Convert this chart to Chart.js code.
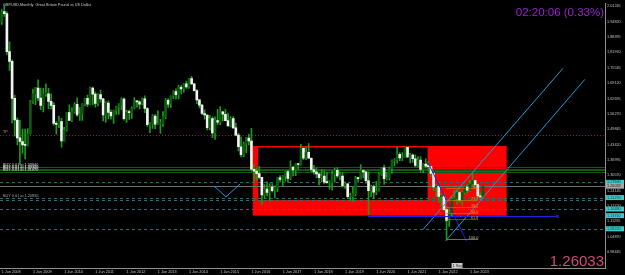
<!DOCTYPE html>
<html><head><meta charset="utf-8">
<script src="https://cdn.jsdelivr.net/npm/chart.js@4.4.0/dist/chart.umd.min.js"></script>
<style>html,body{margin:0;padding:0;background:#000;overflow:hidden}#wrap{width:625px;height:275px}</style>
</head><body><div id="wrap"><canvas id="c" width="625" height="275"></canvas></div>
<script>
// Monthly GBPUSD candles, index 0 = Jun 2008 ... index 185 = Nov 2023
const open = [
1.9465,1.9906,1.9815,1.8230,1.7820,1.6270,1.5370,
1.4620,1.4470,1.4330,1.4310,1.4800,1.6150,1.6460,1.6700,1.6290,1.5980,1.6450,1.6460,
1.6150,1.5980,1.5230,1.5180,1.5300,1.4500,1.4950,1.5680,1.5350,1.5720,1.6020,1.5580,
1.5610,1.6030,1.6270,1.6030,1.6700,1.6450,1.6060,1.6430,1.6250,1.5580,1.6080,1.5690,
1.5540,1.5760,1.5920,1.6000,1.6240,1.5420,1.5690,1.5680,1.5870,1.6150,1.6130,1.6030,
1.6250,1.5850,1.5170,1.5190,1.5530,1.5190,1.5210,1.5210,1.5500,1.6190,1.6030,1.6370,
1.6560,1.6430,1.6740,1.6670,1.6880,1.6750,1.7100,1.6880,1.6600,1.6210,1.5990,1.5640,
1.5580,1.5050,1.5430,1.4830,1.5350,1.5280,1.5710,1.5610,1.5340,1.5120,1.5430,1.5040,
1.4740,1.4250,1.3920,1.4370,1.4610,1.4490,1.3310,1.3230,1.3130,1.2970,1.2240,1.2480,
1.2340,1.2580,1.2410,1.2550,1.2950,1.2890,1.3030,1.3210,1.2930,1.3400,1.3280,1.3530,
1.3510,1.4190,1.3770,1.4020,1.3770,1.3300,1.3200,1.3120,1.2960,1.3030,1.2770,1.2750,
1.2750,1.3100,1.3270,1.3030,1.3030,1.2620,1.2700,1.2160,1.2160,1.2290,1.2940,1.2920,
1.3260,1.3200,1.2830,1.2420,1.2590,1.2350,1.2400,1.3090,1.3370,1.2920,1.2950,1.3330,
1.3670,1.3700,1.3930,1.3780,1.3820,1.4230,1.3830,1.3900,1.3750,1.3470,1.3690,1.3300,
1.3530,1.3440,1.3420,1.3140,1.2570,1.2600,1.2170,1.2170,1.1620,1.1170,1.1480,1.2050,
1.2090,1.2340,1.2020,1.2340,1.2570,1.2440,1.2700,1.2840,1.2670,1.2200,1.2150];
const high = [
1.9980,2.0157,1.9895,1.8640,1.7880,1.6400,1.5460,
1.5360,1.4990,1.4985,1.5010,1.6190,1.6660,1.6740,1.7045,1.6700,1.6690,1.6880,1.6690,
1.6460,1.6100,1.5300,1.5530,1.5440,1.5060,1.5690,1.6000,1.5880,1.6100,1.6300,1.5900,
1.6060,1.6280,1.6410,1.6750,1.6750,1.6540,1.6470,1.6620,1.6270,1.6140,1.6170,1.5780,
1.5780,1.5950,1.6060,1.6300,1.6300,1.5780,1.5780,1.5920,1.6310,1.6170,1.6170,1.6300,
1.6380,1.5890,1.5260,1.5600,1.5600,1.5750,1.5400,1.5720,1.6260,1.6260,1.6380,1.6600,
1.6670,1.6820,1.6820,1.6900,1.6995,1.7110,1.7190,1.6900,1.6640,1.6230,1.6020,1.5790,
1.5590,1.5550,1.5500,1.5500,1.5820,1.5930,1.5730,1.5820,1.5660,1.5510,1.5510,1.5240,
1.4810,1.4670,1.4450,1.4640,1.4770,1.5020,1.3480,1.3370,1.3440,1.2980,1.2670,1.2780,
1.2710,1.2710,1.2620,1.2960,1.3050,1.3050,1.3230,1.3270,1.3660,1.3420,1.3550,1.3550,
1.4350,1.4210,1.4240,1.4380,1.3790,1.3470,1.3360,1.3120,1.3300,1.3260,1.3180,1.2840,
1.3220,1.3350,1.3380,1.3200,1.3180,1.2780,1.2710,1.2310,1.2580,1.3010,1.2980,1.3510,
1.3290,1.3210,1.3200,1.2650,1.2650,1.2810,1.3170,1.3390,1.3480,1.3180,1.3400,1.3700,
1.3760,1.4240,1.4010,1.4010,1.4250,1.4250,1.3980,1.3960,1.3910,1.3840,1.3840,1.3550,
1.3750,1.3640,1.3440,1.3170,1.2670,1.2620,1.2250,1.2290,1.1740,1.1650,1.2150,1.2450,
1.2450,1.2400,1.2420,1.2580,1.2680,1.2850,1.3140,1.2840,1.2710,1.2340,1.2620];
const low = [
1.9365,1.9700,1.8110,1.7445,1.5250,1.4690,1.4330,
1.3500,1.3985,1.3745,1.4275,1.4780,1.6060,1.6010,1.6180,1.5800,1.5710,1.6360,1.5840,
1.5830,1.5150,1.4780,1.5050,1.4230,1.4480,1.4900,1.5340,1.5300,1.5650,1.5530,1.5350,
1.5350,1.5960,1.5930,1.6000,1.6010,1.5910,1.5960,1.6110,1.5330,1.5270,1.5420,1.5400,
1.5230,1.5600,1.5600,1.5800,1.5360,1.5270,1.5390,1.5440,1.5830,1.5910,1.5830,1.6000,
1.5680,1.5100,1.4830,1.5020,1.5010,1.5180,1.4810,1.5100,1.5430,1.5900,1.5900,1.6260,
1.6250,1.6250,1.6460,1.6530,1.6690,1.6690,1.6860,1.6590,1.6050,1.5870,1.5590,1.5400,
1.4950,1.4950,1.4630,1.4560,1.5170,1.5170,1.5330,1.5330,1.5110,1.5080,1.5020,1.4700,
1.4080,1.3830,1.3840,1.4000,1.4330,1.3230,1.2800,1.2860,1.2910,1.1840,1.2080,1.2200,
1.1990,1.2350,1.2110,1.2370,1.2770,1.2590,1.2810,1.2770,1.2870,1.3030,1.3040,1.3300,
1.3480,1.3710,1.3710,1.3760,1.3200,1.3100,1.2960,1.2660,1.2790,1.2700,1.2720,1.2480,
1.2440,1.2770,1.2970,1.2860,1.2560,1.2510,1.2080,1.2010,1.1960,1.2200,1.2770,1.2900,
1.2960,1.2730,1.1410,1.2160,1.2080,1.2250,1.2390,1.3050,1.2680,1.2850,1.2860,1.3140,
1.3450,1.3560,1.3670,1.3670,1.3800,1.3790,1.3570,1.3600,1.3410,1.3410,1.3190,1.3160,
1.3360,1.3270,1.3000,1.2410,1.2160,1.1930,1.1760,1.1590,1.0350,1.0920,1.1350,1.1990,
1.1840,1.1920,1.1800,1.2270,1.2310,1.2370,1.2620,1.2550,1.2110,1.2040,1.2100];
const close = [
1.9906,1.9815,1.8230,1.7820,1.6270,1.5370,1.4620,
1.4470,1.4330,1.4310,1.4800,1.6150,1.6460,1.6700,1.6290,1.5980,1.6450,1.6460,1.6150,
1.5980,1.5230,1.5180,1.5300,1.4500,1.4950,1.5680,1.5350,1.5720,1.6020,1.5580,1.5610,
1.6030,1.6270,1.6030,1.6700,1.6450,1.6060,1.6430,1.6250,1.5580,1.6080,1.5690,1.5540,
1.5760,1.5920,1.6000,1.6240,1.5420,1.5690,1.5680,1.5870,1.6150,1.6130,1.6030,1.6250,
1.5850,1.5170,1.5190,1.5530,1.5190,1.5210,1.5210,1.5500,1.6190,1.6030,1.6370,1.6560,
1.6430,1.6740,1.6670,1.6880,1.6750,1.7100,1.6880,1.6600,1.6210,1.5990,1.5640,1.5580,
1.5050,1.5430,1.4830,1.5350,1.5280,1.5710,1.5610,1.5340,1.5120,1.5430,1.5040,1.4740,
1.4250,1.3920,1.4370,1.4610,1.4490,1.3310,1.3230,1.3130,1.2970,1.2240,1.2480,1.2340,
1.2580,1.2410,1.2550,1.2950,1.2890,1.3030,1.3210,1.2930,1.3400,1.3280,1.3530,1.3510,
1.4190,1.3770,1.4020,1.3770,1.3300,1.3200,1.3120,1.2960,1.3030,1.2770,1.2750,1.2750,
1.3100,1.3270,1.3030,1.3030,1.2620,1.2700,1.2160,1.2160,1.2290,1.2940,1.2920,1.3260,
1.3200,1.2830,1.2420,1.2590,1.2350,1.2400,1.3090,1.3370,1.2920,1.2950,1.3330,1.3670,
1.3700,1.3930,1.3780,1.3820,1.4230,1.3830,1.3900,1.3750,1.3470,1.3690,1.3300,1.3530,
1.3440,1.3420,1.3140,1.2570,1.2600,1.2170,1.2170,1.1620,1.1170,1.1480,1.2050,1.2090,
1.2340,1.2020,1.2340,1.2570,1.2440,1.2700,1.2840,1.2670,1.2200,1.2150,1.26033];

const xTickIdx = [0,12,24,36,48,60,72,84,96,108,120,132,144,156,168,180];
const xTickLabels = ['1 Jun 2008','1 Jun 2009','1 Jun 2010','1 Jun 2011','1 Jun 2012','1 Jun 2013','1 Jun 2014','1 Jun 2015','1 Jun 2016','1 Jun 2017','1 Jun 2018','1 Jun 2019','1 Jun 2020','1 Jun 2021','1 Jun 2022','1 Jun 2023'];
const yTicks = [2.01245,1.94820,1.88395,1.81970,1.75545,1.69120,1.62695,1.56270,1.49845,1.43420,1.36995,1.30570,1.24145,1.17720,1.11295,1.04870,0.98445];

// drawn objects in chart coordinates (month index, price)
const redZone = {x0:96.5, x1:194.1, p0:1.1371, p1:1.4282};
const innerZone = {x0:98.6, x1:163.7, p0:1.2031, p1:1.4220};
const tpLevel = 1.4757;
const buyLevels = [1.3394,1.3332,1.3270,1.3187];
const orderLevels = [1.2763,1.2127,1.2011,1.1648,1.0822];
const bidPrice = 1.26033;
const blueLevel = {p:1.1342, x0:140.8, x1:213.4};
const channelA = [{x:161.9,y:1.0786},{x:215.7,y:1.7524}];
const channelB = [{x:170.7,y:1.0322},{x:224.2,y:1.7070}];
const navyLine = [{x:163.9,y:1.3576},{x:178.7,y:1.0302}];
const checkMark = [{x:81.6,y:1.2610},{x:86.2,y:1.2156},{x:91.6,y:1.2692}];
const fibLevels = [0,23.6,38.2,50.0,61.8,100.0];
const fibTop = 1.2528, fibBottom = 1.0413, fibX0 = 171.0, fibX1 = 183.2;
const axisMarks = [1.2763,1.2127,1.1648,1.1371,1.0822];

const SMALL = '3.8px "Liberation Sans"';
const bear = i => close[i] < open[i];

const mt4 = {
  id:'mt4',
  beforeDatasetsDraw(chart){
    const {ctx, chartArea:a, scales:{x,y}} = chart;
    ctx.save();
    ctx.beginPath(); ctx.rect(a.left,a.top,a.right-a.left,a.bottom-a.top); ctx.clip();
    const rect=(z,c)=>{const X0=x.getPixelForValue(z.x0),X1=x.getPixelForValue(z.x1),Y0=y.getPixelForValue(z.p1),Y1=y.getPixelForValue(z.p0);ctx.fillStyle=c;ctx.fillRect(X0,Y0,X1-X0,Y1-Y0);};
    rect(redZone,'#ff0000');
    rect(innerZone,'#000000');
    const hl=(p,c,dash,x0,x1)=>{const Y=Math.round(y.getPixelForValue(p))+0.5;ctx.strokeStyle=c;ctx.lineWidth=1;ctx.setLineDash(dash);ctx.beginPath();ctx.moveTo(x0===undefined?a.left:x.getPixelForValue(x0),Y);ctx.lineTo(x1===undefined?a.right:x.getPixelForValue(x1),Y);ctx.stroke();};
    hl(tpLevel,'#b01010',[1,2]);
    buyLevels.forEach(p=>hl(p,'#155515',[]));
    orderLevels.forEach(p=>hl(p,'#2a6f78',[3,3]));
    hl(bidPrice,'#707070',[]);
    ctx.setLineDash([]);
    ctx.font=SMALL; ctx.textBaseline='bottom'; ctx.textAlign='left';
    ctx.fillStyle='#a0a0a0'; ctx.fillText('TP',3,y.getPixelForValue(tpLevel)-1);
    ctx.fillStyle='#d8d8d8';
    buyLevels.forEach(p=>ctx.fillText('BUY 0.01 at '+p.toFixed(5),3,y.getPixelForValue(p)));
    ctx.fillStyle='#9aa8a8';
    ctx.fillText('BUY 0.01 at 1.20830',3,y.getPixelForValue(orderLevels[1]));
    ctx.restore();
  },
  afterDatasetsDraw(chart){
    const {ctx, chartArea:a, scales:{x,y}} = chart;
    ctx.save();
    ctx.beginPath(); ctx.rect(a.left,a.top,a.right-a.left,a.bottom-a.top); ctx.clip();
    const by=Math.round(y.getPixelForValue(blueLevel.p))+0.5;
    ctx.strokeStyle='#2424e0'; ctx.lineWidth=1;
    ctx.beginPath(); ctx.moveTo(x.getPixelForValue(blueLevel.x0),by); ctx.lineTo(x.getPixelForValue(blueLevel.x1),by); ctx.stroke();
    ctx.fillStyle='#1a1aa0'; ctx.fillRect(x.getPixelForValue(blueLevel.x1)-1,by-1.5,3,3);
    ctx.font=SMALL; ctx.textAlign='right'; ctx.textBaseline='bottom';
    fibLevels.forEach(lv=>{
      const p=fibTop-(fibTop-fibBottom)*lv/100;
      const Y=Math.round(y.getPixelForValue(p))+0.5;
      const col = lv===100 ? '#6b7a2a' : '#e08a00';
      ctx.strokeStyle=col; ctx.setLineDash(lv===100?[]:[1,1]);
      ctx.beginPath(); ctx.moveTo(x.getPixelForValue(fibX0),Y); ctx.lineTo(x.getPixelForValue(fibX1),Y); ctx.stroke();
      ctx.fillStyle= lv===100 ? '#c8c8a0' : '#f0a020';
      ctx.fillText(lv.toFixed(1),x.getPixelForValue(fibX1),Y);
    });
    ctx.restore();
  },
  afterDraw(chart){
    const {ctx, chartArea:a, scales:{x,y}} = chart;
    ctx.save();
    ctx.font=SMALL; ctx.textBaseline='middle'; ctx.textAlign='left';
    axisMarks.forEach(p=>{const Y=y.getPixelForValue(p);ctx.fillStyle='#40c8cc';ctx.fillRect(a.right+1,Y-2.5,18,5);ctx.fillStyle='#0a3a3a';ctx.fillText(p.toFixed(5),a.right+2,Y);});
    const bY=y.getPixelForValue(bidPrice);
    ctx.fillStyle='#a8a8a8';ctx.fillRect(a.right+1,bY-2.5,18,5);ctx.fillStyle='#202020';ctx.fillText(bidPrice.toFixed(5),a.right+2,bY);
    const tx=x.getPixelForValue(171);
    ctx.fillStyle='#c8c8c8'; ctx.fillRect(tx+5,a.bottom-5,11,5);
    ctx.fillStyle='#303030'; ctx.fillText('1 Sep',tx+6,a.bottom-2.5);
    ctx.fillStyle='#c8c8c8'; ctx.textBaseline='top';
    ctx.fillText('GBPUSD,Monthly  Great Britain Pound vs US Dollar',3,3);
    ctx.textAlign='right'; ctx.textBaseline='alphabetic';
    ctx.font='11.5px "Liberation Sans"'; ctx.fillStyle='#9b22d4';
    ctx.fillText('02:20:06 (0.33%)',a.right-1,16);
    ctx.font='15px "Liberation Sans"'; ctx.fillStyle='#d2487c';
    ctx.fillText(bidPrice.toFixed(5),a.right-1,265.5);
    ctx.restore();
  }
};

const lineDs=(data,color)=>({type:'line',data,borderColor:color,borderWidth:1,pointRadius:0,fill:false,tension:0,order:0});

new Chart(document.getElementById('c'),{
  type:'bar',
  data:{datasets:[
    {label:'wick',data:open.map((o,i)=>({x:i,y:[low[i],high[i]]})),backgroundColor:'#1c9a1c',barThickness:1,grouped:false,order:3,minBarLength:1},
    {label:'body',data:open.map((o,i)=>({x:i,y:[Math.min(o,close[i]),Math.max(o,close[i])]})),
      backgroundColor:c=>bear(c.dataIndex)?'#f4f4f4':'#0d5a0d',barThickness:2,grouped:false,order:2,minBarLength:1},
    lineDs(channelA,'#1e9ad8'),
    lineDs(channelB,'#1e9ad8'),
    lineDs(navyLine,'#2222dd'),
    lineDs(checkMark,'#1e9ad8')
  ]},
  options:{
    responsive:false,animation:false,devicePixelRatio:1,
    layout:{padding:0},
    plugins:{legend:{display:false},tooltip:{enabled:false}},
    scales:{
      x:{type:'linear',offset:false,min:-0.653,max:231.9,position:'bottom',
        afterBuildTicks:s=>{s.ticks=xTickIdx.map(v=>({value:v}));},
        afterFit:s=>{s.height=7;},
        ticks:{autoSkip:false,maxRotation:0,align:'start',padding:1,color:'#c0c0c0',font:{size:3.8,family:'Liberation Sans'},callback:(v,i)=>xTickLabels[i]},
        grid:{drawOnChartArea:false,drawTicks:true,tickLength:1,color:'#909090'},
        border:{display:true,color:'#909090'}},
      y:{type:'linear',position:'right',min:0.91826,max:2.02484,
        afterBuildTicks:s=>{s.ticks=yTicks.map(v=>({value:v}));},
        afterFit:s=>{s.width=20;},
        ticks:{padding:1,color:'#c0c0c0',font:{size:3.8,family:'Liberation Sans'},callback:v=>v.toFixed(5)},
        grid:{drawOnChartArea:false,drawTicks:true,tickLength:1,color:'#909090'},
        border:{display:true,color:'#909090'}}
    }
  },
  plugins:[mt4]
});
</script></body></html>
